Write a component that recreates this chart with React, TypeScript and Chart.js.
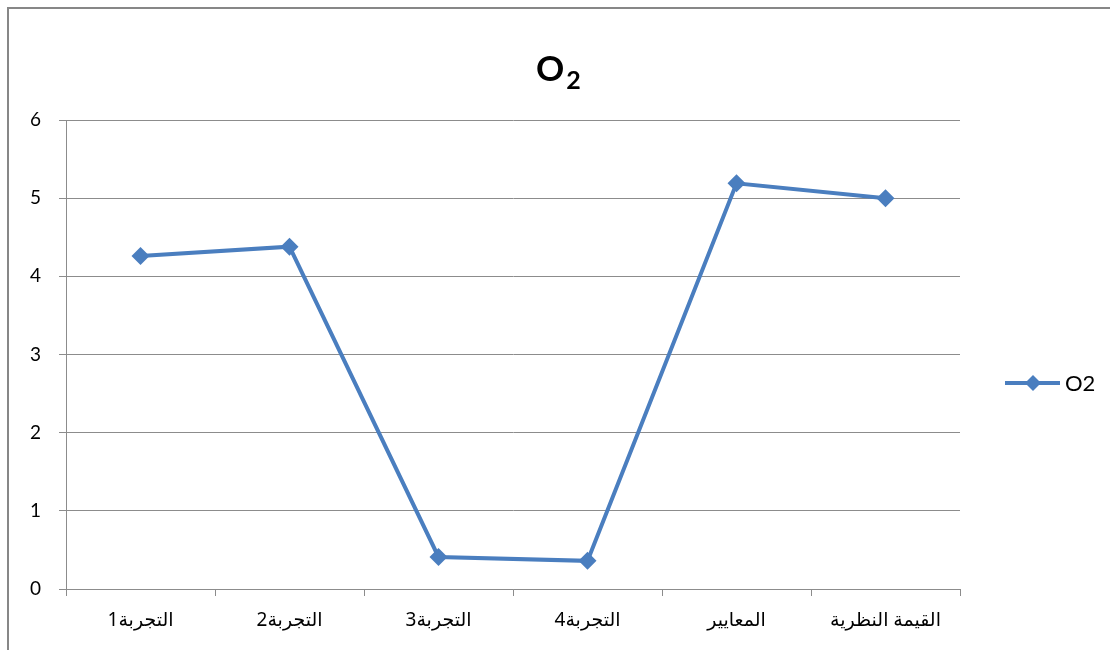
import React, { useEffect, useRef } from "react";
import { Chart, registerables } from "chart.js";

Chart.register(...registerables);

const categories = ["التجربة1", "التجربة2", "التجربة3", "التجربة4", "المعايير", "القيمة النظرية"];
const o2Values = [4.26, 4.38, 0.41, 0.36, 5.19, 5.0];
const seriesName = "O2";
const titleMain = "O";
const titleSub = "2";

const LINE_COLOR = "#4A7EBF";
const GRID_COLOR = "#8C8C8C";

const overlayPlugin = {
  id: "overlay",
  afterDraw(chart: any) {
    const ctx = chart.ctx;
    ctx.save();
    // title
    ctx.fillStyle = "#000";
    ctx.textBaseline = "alphabetic";
    ctx.textAlign = "left";
    const startX = 527;
    ctx.font = "bold 35px Lato, 'Open Sans', sans-serif";
    const ow = ctx.measureText(titleMain).width;
    ctx.fillText(titleMain, startX, 72);
    ctx.font = "bold 25px Lato, 'Open Sans', sans-serif";
    ctx.fillText(titleSub, startX + ow + 2, 80);

    // legend
    const ly = 374;
    ctx.strokeStyle = LINE_COLOR;
    ctx.lineWidth = 4;
    ctx.beginPath();
    ctx.moveTo(996, ly);
    ctx.lineTo(1051, ly);
    ctx.stroke();
    ctx.fillStyle = LINE_COLOR;
    ctx.beginPath();
    const dx = 1024, r = 8;
    ctx.moveTo(dx, ly - r);
    ctx.lineTo(dx + r, ly);
    ctx.lineTo(dx, ly + r);
    ctx.lineTo(dx - r, ly);
    ctx.closePath();
    ctx.fill();
    ctx.fillStyle = "#000";
    ctx.font = "22px Lato, 'Open Sans', sans-serif";
    ctx.textBaseline = "middle";
    ctx.fillText(seriesName, 1056, ly + 1);
    ctx.restore();
  },
};

export default function App() {
  const ref = useRef<HTMLCanvasElement>(null);
  useEffect(() => {
    if (!ref.current) return;
    const chart = new Chart(ref.current, {
      type: "line",
      data: {
        labels: categories,
        datasets: [
          {
            label: seriesName,
            data: o2Values,
            borderColor: LINE_COLOR,
            backgroundColor: LINE_COLOR,
            borderWidth: 4,
            pointStyle: "rectRot",
            pointRadius: 9,
            pointHoverRadius: 9,
            pointBorderWidth: 0,
            tension: 0,
          },
        ],
      },
      options: {
        animation: false,
        responsive: true,
        maintainAspectRatio: false,
        layout: { padding: { top: 111, right: 150, left: 0, bottom: 0 } },
        plugins: {
          legend: { display: false },
          title: { display: false },
          tooltip: { enabled: false },
        },
        scales: {
          x: {
            type: "category",
            offset: true,
            afterFit: (s: any) => {
              s.height = 61;
            },
            grid: {
              offset: true,
              drawOnChartArea: false,
              drawTicks: true,
              tickLength: 7,
              color: GRID_COLOR,
            },
            border: { display: true, color: GRID_COLOR, width: 1 },
            ticks: {
              color: "#000",
              padding: 13,
              maxRotation: 0,
              font: { family: "'Noto Sans', 'DejaVu Sans', sans-serif", size: 19 },
            },
          },
          y: {
            min: 0,
            max: 6,
            afterFit: (s: any) => {
              s.width = 57;
            },
            grid: {
              color: GRID_COLOR,
              drawTicks: true,
              tickLength: 7,
            },
            border: { display: true, color: GRID_COLOR, width: 1 },
            ticks: {
              stepSize: 1,
              color: "#000",
              padding: 18,
              font: { family: "Lato, 'Open Sans', sans-serif", size: 19 },
            },
          },
        },
      },
      plugins: [overlayPlugin],
    });
    return () => chart.destroy();
  }, []);

  return (
    <div
      style={{
        position: "fixed",
        left: 7,
        top: 7,
        width: 1200,
        height: 720,
        border: "2px solid #878787",
        background: "#fff",
      }}
    >
      <div style={{ position: "relative", width: 1101, height: 641 }}>
        <canvas ref={ref} />
      </div>
    </div>
  );
}
